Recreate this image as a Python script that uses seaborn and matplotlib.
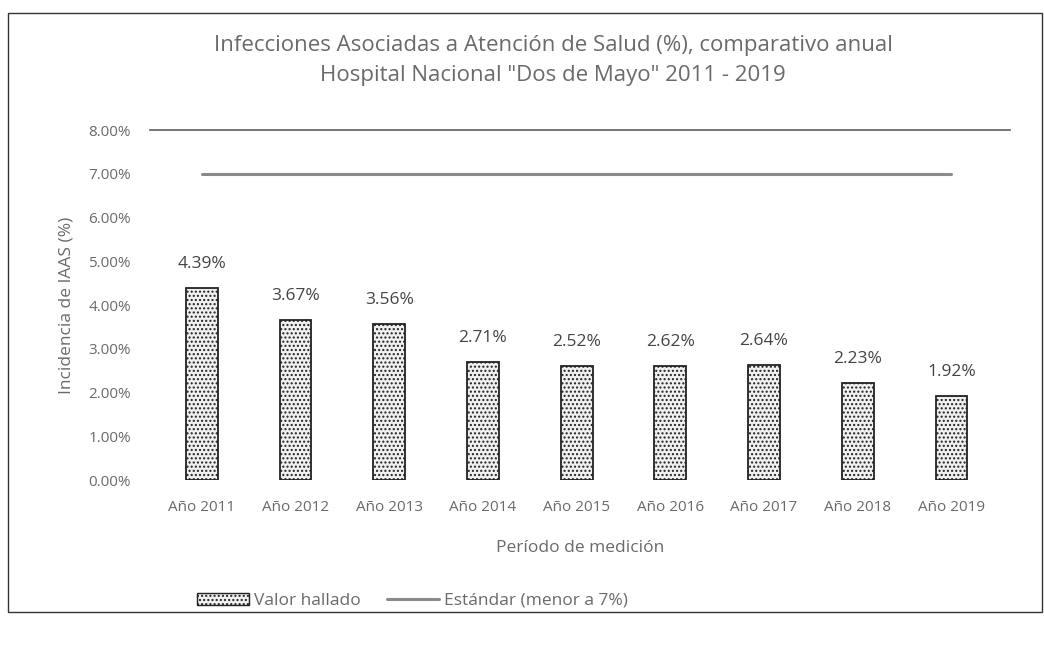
import seaborn as sns
import matplotlib.pyplot as plt
import matplotlib.patches as mpatches
from matplotlib.lines import Line2D
from matplotlib.ticker import FuncFormatter
import pandas as pd

years = ["Año 2011", "Año 2012", "Año 2013", "Año 2014", "Año 2015",
         "Año 2016", "Año 2017", "Año 2018", "Año 2019"]
valor_hallado = [4.39, 3.67, 3.56, 2.71, 2.62, 2.62, 2.64, 2.23, 1.92]
etiquetas = ["4.39%", "3.67%", "3.56%", "2.71%", "2.52%", "2.62%", "2.64%", "2.23%", "1.92%"]
estandar = [7, 7, 7, 7, 7, 7, 7, 7, 7]

sns.set_theme(style="white")
plt.rcParams['font.family'] = ['Open Sans', 'DejaVu Sans']
plt.rcParams['hatch.color'] = "#a8a8a8"

txt = "#6a6a6a"
df = pd.DataFrame({"anio": years, "valor": valor_hallado, "std": estandar})

fig = plt.figure(figsize=(10.44, 6.48), dpi=100)
ax = fig.add_axes([0.144, 0.259, 0.823, 0.54])

sns.barplot(x="anio", y="valor", data=df, color="#f0f0f0", width=0.34,
            edgecolor="#222222", linewidth=1.3, hatch="....", ax=ax)

sns.lineplot(x=range(len(years)), y=df["std"], color="#8a8a8a", linewidth=2.2, ax=ax)

for i, v in enumerate(valor_hallado):
    ax.text(i, v + 0.55, etiquetas[i], ha="center", va="center",
            fontsize=12.5, color="#444444")

ax.set_ylim(0, 8)
ax.set_xlim(-0.55, 8.62)
ax.set_yticks(range(0, 9))
ax.yaxis.set_major_formatter(FuncFormatter(lambda v, _: "{:.2f}%".format(v)))
ax.tick_params(axis="y", colors=txt, labelsize=11, length=0, pad=14)
ax.tick_params(axis="x", colors=txt, labelsize=11, length=0, pad=14)
ax.set_xlabel("Período de medición", color=txt, fontsize=12.5, labelpad=18)
ax.set_ylabel("Incidencia de IAAS (%)", color=txt, fontsize=12.5, labelpad=10)
for s in ["left", "right", "bottom"]:
    ax.spines[s].set_visible(False)
ax.spines["top"].set_color("#666666")

fig.text(0.53, 0.93, "Infecciones Asociadas a Atención de Salud (%), comparativo anual",
         ha="center", va="center", fontsize=16, color=txt)
fig.text(0.53, 0.884, 'Hospital Nacional "Dos de Mayo" 2011 - 2019',
         ha="center", va="center", fontsize=16, color=txt)

handles = [mpatches.Patch(facecolor="#f0f0f0", edgecolor="#222222", hatch="....", label="Valor hallado"),
           Line2D([0], [0], color="#8a8a8a", linewidth=2.2, label="Estándar (menor a 7%)")]
leg = fig.legend(handles=handles, loc="center", bbox_to_anchor=(0.395, 0.073), ncol=2,
                 frameon=False, fontsize=12.5, handlelength=3, handletextpad=0.3,
                 columnspacing=1.5)
for t in leg.get_texts():
    t.set_color(txt)

fig.add_artist(mpatches.Rectangle((0.008, 0.055), 0.99, 0.925, transform=fig.transFigure,
                                  fill=False, edgecolor="#333333", linewidth=1))

plt.savefig("out.png", dpi=100)
